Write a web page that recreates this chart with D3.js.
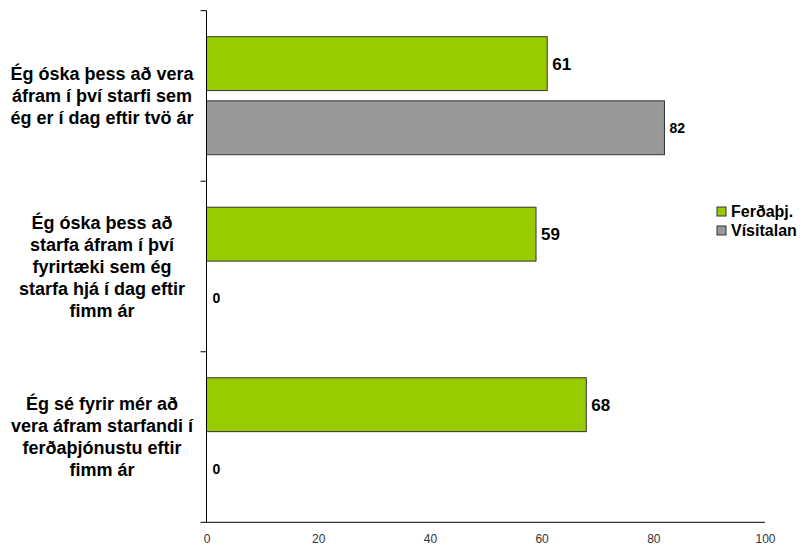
<!DOCTYPE html>
<html>
<head>
<meta charset="utf-8">
<script src="https://cdn.jsdelivr.net/npm/d3@7"></script>
<style>
  html, body { margin: 0; padding: 0; background: #fff; }
  svg { display: block; font-family: Arial, "Liberation Sans", sans-serif; }
</style>
</head>
<body>
<svg id="chart" width="806" height="545"></svg>
<script>
// ---- data ----
const categories = [
  "Ég óska þess að vera áfram í því starfi sem ég er í dag eftir tvö ár",
  "Ég óska þess að starfa áfram í því fyrirtæki sem ég starfa hjá í dag eftir fimm ár",
  "Ég sé fyrir mér að vera áfram starfandi í ferðaþjónustu eftir fimm ár"
];
const categoryLines = [
  ["Ég óska þess að vera", "áfram í því starfi sem", "ég er í dag eftir tvö ár"],
  ["Ég óska þess að", "starfa áfram í því", "fyrirtæki sem ég", "starfa hjá í dag eftir", "fimm ár"],
  ["Ég sé fyrir mér að", "vera áfram starfandi í", "ferðaþjónustu eftir", "fimm ár"]
];
const seriesNames = ["Ferðaþj.", "Vísitalan"];
const ferdathjValues = [61, 59, 68];
const visitalanValues = [82, 0, 0];
const xTicks = [0, 20, 40, 60, 80, 100];
const colors = ["#99CC00", "#999999"];

// ---- layout ----
const svg = d3.select("#chart");
const x0 = 206.5, x1 = 765, yTop = 10.7, yBot = 522.3;

const x = d3.scaleLinear().domain([0, 100]).range([x0, x1]);
const y = d3.scaleBand().domain(categories).range([yTop, yBot]).padding(0);
const yInner = d3.scaleBand().domain(seriesNames).range([26, 144]).paddingInner(0.16).paddingOuter(0);

const seriesValues = [ferdathjValues, visitalanValues];
const rows = [];
categories.forEach((c, i) => {
  seriesNames.forEach((s, j) => {
    rows.push({cat: c, series: s, si: j, value: seriesValues[j][i]});
  });
});

// bars
svg.append("g").selectAll("rect")
  .data(rows.filter(d => d.value > 0))
  .join("rect")
  .attr("x", x(0))
  .attr("y", d => y(d.cat) + yInner(d.series))
  .attr("width", d => x(d.value) - x(0))
  .attr("height", yInner.bandwidth())
  .attr("fill", d => colors[d.si])
  .attr("stroke", "#333")
  .attr("stroke-width", 1);

// value labels
svg.append("g").selectAll("text")
  .data(rows)
  .join("text")
  .attr("x", d => x(d.value) + (d.value > 0 ? 5 : 6))
  .attr("y", d => y(d.cat) + yInner(d.series) + yInner.bandwidth() / 2)
  .attr("dy", "0.35em")
  .attr("font-weight", "bold")
  .attr("font-size", d => d.si === 0 ? 17 : 14)
  .attr("fill", "#000")
  .text(d => d.value);

// x axis
const xAxis = svg.append("g")
  .attr("transform", `translate(0,${yBot})`)
  .call(d3.axisBottom(x).tickValues(xTicks).tickSize(0).tickPadding(12).tickSizeOuter(0));
xAxis.select(".domain").attr("d", `M${x0 - 6},0H${x1}`).attr("stroke", "#000");
xAxis.selectAll("text").attr("font-size", 12).attr("fill", "#333").attr("font-family", "Arial, 'Liberation Sans', sans-serif");

// y axis
const yAxis = svg.append("g").attr("transform", `translate(${x0},0)`);
yAxis.append("line").attr("x1", 0).attr("x2", 0).attr("y1", yTop).attr("y2", yBot).attr("stroke", "#000");
yAxis.selectAll("line.tk")
  .data(categories.map((c, i) => i === 0 ? yTop : y(c)))
  .join("line").attr("class", "tk")
  .attr("x1", -6).attr("x2", 0)
  .attr("y1", d => d).attr("y2", d => d)
  .attr("stroke", "#000");

// category labels
const lineH = 22;
const catG = svg.append("g");
categories.forEach((c, i) => {
  const lines = categoryLines[i];
  const cy = y(c) + y.bandwidth() / 2;
  const t = catG.append("text")
    .attr("text-anchor", "middle")
    .attr("font-weight", "bold")
    .attr("font-size", 18)
    .attr("fill", "#000");
  lines.forEach((ln, k) => {
    t.append("tspan")
      .attr("x", 102)
      .attr("y", cy + (k - (lines.length - 1) / 2) * lineH)
      .attr("dy", "0.35em")
      .text(ln);
  });
});

// legend
const leg = svg.append("g").attr("transform", "translate(717,207)");
seriesNames.forEach((s, i) => {
  const g = leg.append("g").attr("transform", `translate(0,${i * 19})`);
  g.append("rect").attr("width", 9).attr("height", 9)
    .attr("fill", colors[i]).attr("stroke", "#333");
  g.append("text").attr("x", 14).attr("y", 4.5).attr("dy", "0.35em")
    .attr("font-weight", "bold").attr("font-size", 16).attr("fill", "#000")
    .text(s);
});
</script>
</body>
</html>
